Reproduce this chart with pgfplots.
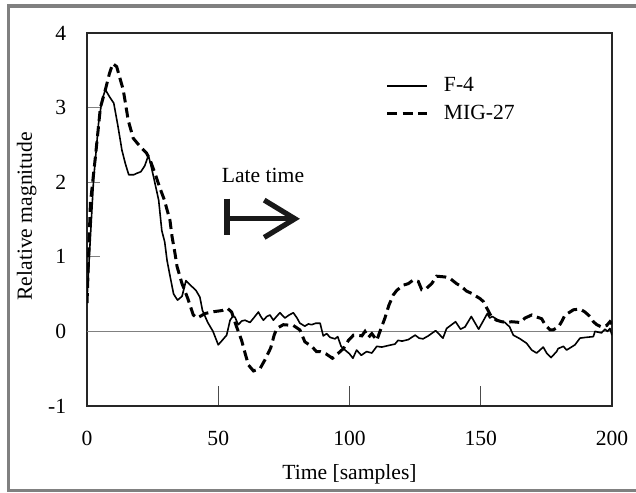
\documentclass[border=0pt]{standalone}
\usepackage{fontspec}
\setmainfont{Liberation Serif}
\usepackage{pgfplots}
\pgfplotsset{compat=1.18}
\begin{document}
\begin{tikzpicture}[font=\fontsize{10.8}{13}\selectfont]
\useasboundingbox (0,0) rectangle (318pt,-246pt);
\draw[line width=1.75pt, color=black!50] (340pt,-3pt) -- (4.25pt,-3pt) -- (4.25pt,-245.25pt) -- (340pt,-245.25pt);
\begin{axis}[
  at={(43.5pt,-203pt)}, anchor=south west,
  scale only axis, width=262.5pt, height=186.5pt,
  xmin=0, xmax=200, ymin=-1, ymax=4,
  axis line style={black!85, line width=0.9pt},
  tick align=inside,
  xtick pos=bottom, ytick pos=left,
  xtick={0,50,100,150,200}, xticklabels={0,50,100,150,200},
  ytick={-1,0,1,2,3,4}, yticklabels={-1,0,1,2,3,4},
  xtick style={black!70, line width=0.6pt, /pgfplots/major tick length=10pt},
  ytick style={black!50, line width=0.6pt, /pgfplots/major tick length=6.5pt},
  xticklabel style={anchor=base, inner sep=0pt, yshift=-19.5pt},
  yticklabel style={anchor=east, inner ysep=0pt, inner xsep=10.25pt},
  xlabel={Time [samples]},
  xlabel style={at={(axis description cs:0.5,-0.197)}, anchor=base},
  ylabel={Relative magnitude},
  ylabel style={at={(axis description cs:-0.1048,0.509)}, anchor=base},
  legend cell align=left,
  legend style={at={(axis cs:113.9,3.406)}, anchor=north west, draw=none, fill=none,
    inner sep=0pt, outer sep=0pt, row sep=5.1pt, column sep=7.5pt,
    nodes={inner sep=0pt}},
  legend image code/.code={\draw[#1] (0pt,0pt) -- (20pt,0pt);},
]
\draw[black!50, line width=0.5pt] (axis cs:0,0) -- (axis cs:200,0);
\addplot[black, line width=0.8pt, line join=round] coordinates {
(0,0.42) (1.2,1.2) (2.5,2.03) (4.4,2.79) (5.7,3.1) (7,3.24) (8.5,3.15) (10.2,3.06)
(11.8,2.75) (13.3,2.43) (14.6,2.25) (15.9,2.1) (17.8,2.1) (19,2.12) (20.5,2.14)
(22,2.22) (23.4,2.36) (24.6,2.19) (25.8,2.0) (27.3,1.76) (28.5,1.35) (29.6,1.2)
(30.5,0.95) (31.7,0.73) (33,0.5) (34.5,0.42) (36.2,0.47) (37.7,0.68) (40,0.6)
(41.5,0.55) (43,0.46) (44,0.28) (46,0.12) (48,0.0) (50,-0.18) (51.5,-0.12)
(53.2,-0.05) (54.5,0.15) (55.5,0.2) (56.4,0.19) (57.6,0.09) (59,0.14) (60.2,0.15)
(62.1,0.12) (63.5,0.18) (65.3,0.26) (66.2,0.2) (67.2,0.15) (68.5,0.2) (69.7,0.22)
(71,0.15) (72.2,0.2) (73.5,0.25) (75.4,0.18) (77,0.22) (78.6,0.25) (80,0.18)
(81.1,0.11) (83,0.07) (84.3,0.1) (85.6,0.09) (87.2,0.11) (88.8,0.11) (90,-0.06)
(91.3,-0.03) (92.6,-0.08) (94.5,-0.1) (95.5,-0.07) (96.8,-0.2) (98.3,-0.25)
(100,-0.3) (101.3,-0.36) (102.7,-0.25) (104.5,-0.32) (106.5,-0.27) (108.5,-0.29)
(110.4,-0.2) (112.3,-0.21) (114.7,-0.19) (117.3,-0.17) (118.5,-0.12) (120,-0.13)
(122.4,-0.11) (125,-0.05) (126.5,-0.09) (128,-0.1) (130,-0.06) (132.8,0.01)
(135.6,-0.09) (137,0.04) (140.4,0.13) (142.3,0.03) (144,0.06) (146.4,0.2)
(149.2,0.03) (152.5,0.24) (153.4,0.18) (154.4,0.2) (156.7,0.15) (159.2,0.12)
(161,0.06) (162.4,-0.05) (165,-0.1) (167.5,-0.16) (169.4,-0.25) (171.3,-0.29)
(173.8,-0.21) (175.1,-0.29) (176.8,-0.35) (178.9,-0.27) (179.5,-0.23) (181.5,-0.2)
(182.7,-0.25) (185.9,-0.18) (187.8,-0.09) (190,-0.08) (192.9,-0.07) (193.5,0.0)
(196,-0.02) (197.3,0.03) (198.3,0.0) (199.2,0.04) (200,-0.05)
};
\addlegendentry{F-4}
\addplot[black, line width=1.5pt, dash pattern=on 5pt off 2.6pt] coordinates {
(0,0.38) (1.3,1.72) (3.2,2.34) (5.1,3.0) (7,3.24) (8.5,3.45) (9.8,3.59) (11.3,3.55)
(12.5,3.4) (13.8,3.24) (15.7,2.83) (17.6,2.59) (20.2,2.48) (22.7,2.39) (24,2.3)
(25.9,2.12) (27.8,1.92) (29.5,1.76) (30.5,1.63) (31.6,1.49) (32.4,1.27) (33.5,1.05)
(34.3,0.87) (36.2,0.64) (38.3,0.45) (40.5,0.22) (42,0.18) (43,0.2) (45,0.24)
(47.5,0.26) (49.4,0.27) (51.5,0.28) (53.5,0.31) (55.1,0.26) (57,0.06) (58.9,-0.12)
(60.2,-0.29) (61.5,-0.45) (63.4,-0.53) (65.9,-0.5) (67.8,-0.38) (70,-0.22)
(71.3,-0.05) (72.3,0.04) (74.8,0.09) (78.6,0.08) (81.1,0.02) (83,-0.14) (85.6,-0.2)
(87.4,-0.27) (88.8,-0.27) (91,-0.3) (93.5,-0.36) (95.5,-0.3) (97.7,-0.23)
(99.6,-0.12) (101.5,-0.05) (103,-0.05) (104.7,-0.06) (105.9,0.0) (107.2,-0.08)
(108.5,-0.03) (110.4,-0.12) (111.6,0.0) (113.5,0.18) (115,0.35) (116.7,0.49)
(118,0.55) (120.5,0.62) (122.4,0.64) (124.3,0.69) (126.2,0.67) (127.5,0.56)
(129.4,0.58) (131.3,0.64) (133.2,0.74) (136.4,0.73) (138.3,0.71) (140.8,0.64)
(142.7,0.6) (144.6,0.54) (146.5,0.51) (149.7,0.44) (151,0.4) (152.5,0.3) (154,0.2)
(156,0.15) (158,0.13) (160,0.12) (161.8,0.13) (165,0.12) (166.9,0.18) (169.4,0.22)
(170.7,0.2) (173.2,0.17) (174.5,0.09) (176.4,0.02) (177.5,0.02) (179.6,0.06)
(180.8,0.13) (182.1,0.22) (184,0.26) (185.3,0.29) (187.8,0.3) (189.7,0.26)
(191.6,0.2) (192.9,0.13) (194.2,0.09) (196,0.06) (198,0.08) (199.2,0.13) (200,0.1)
};
\addlegendentry{MIG-27}
\node[anchor=base, inner sep=0pt] at (axis cs:67.05,1.99) {Late time};
\draw[black!90, line width=2.6pt] (axis cs:53.3,1.78) -- (axis cs:53.3,1.29);
\draw[black!90, line width=2.6pt] (axis cs:53.3,1.51) -- (axis cs:79,1.51);
\draw[black!90, line width=2.6pt, line join=miter] (axis cs:67.5,1.76) -- (axis cs:79.2,1.51) -- (axis cs:67.5,1.26);
\end{axis}
\end{tikzpicture}
\end{document}
